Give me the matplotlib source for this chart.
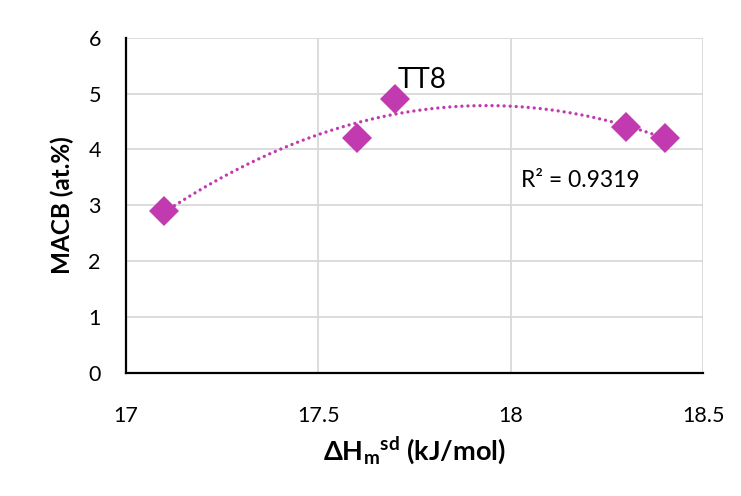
import numpy as np
import matplotlib
matplotlib.use("Agg")
import matplotlib.pyplot as plt

plt.rcParams["font.family"] = ["Lato", "DejaVu Sans"]
plt.rcParams["mathtext.default"] = "regular"

# Mixing enthalpy vs MACB composition
dH = [17.1, 17.6, 17.7, 18.3, 18.4]
macb = [2.9, 4.2, 4.9, 4.4, 4.2]
label_x, label_y = 17.707, 5.25
label_text = "TT8"
r2_text = "R² = 0.9319"

color = "#C13AB0"

fig = plt.figure(figsize=(7.41, 4.96), dpi=100)
ax = fig.add_axes([0.1698, 0.2486, 0.9491 - 0.1698, 0.924 - 0.2486])

# quadratic trendline over the data range
coef = np.polyfit(dH, macb, 2)
xs = np.linspace(min(dH), max(dH), 200)
ax.plot(xs, np.polyval(coef, xs), color=color, linewidth=2.4,
        linestyle=(0, (0.01, 1.8)), dash_capstyle="round", zorder=2)

ax.plot(dH, macb, linestyle="none", marker="D", markersize=15.5,
        color=color, markeredgewidth=0, zorder=3)

ax.text(label_x, label_y, label_text, fontsize=20, va="center", ha="left")
ax.text(18.026, 3.45, r2_text, fontsize=16.5, va="center", ha="left")

ax.set_xlim(17, 18.5)
ax.set_ylim(0, 6)
ax.set_xticks([17, 17.5, 18, 18.5])
ax.set_xticklabels(["17", "17.5", "18", "18.5"])
ax.set_yticks(range(0, 7))

ax.grid(True, color="#d9d9d9", linewidth=1.3)
ax.set_axisbelow(True)
for side in ["top", "right"]:
    ax.spines[side].set_visible(False)
for side in ["left", "bottom"]:
    ax.spines[side].set_linewidth(1.6)
    ax.spines[side].set_color("black")

ax.tick_params(length=0, labelsize=15.5)
ax.tick_params(axis="x", pad=24)
ax.tick_params(axis="y", pad=18)

# axis titles
ax.text(-0.1105, 0.5, "MACB (at.%)", transform=ax.transAxes, rotation=90,
        ha="center", va="center", fontsize=17.5, fontweight="bold")
ax.set_xlabel(r"$\Delta$H$_m$$^{sd}$ (kJ/mol)", fontsize=19.5,
              fontweight="bold", labelpad=7)

fig.savefig("out.png", dpi=100)
